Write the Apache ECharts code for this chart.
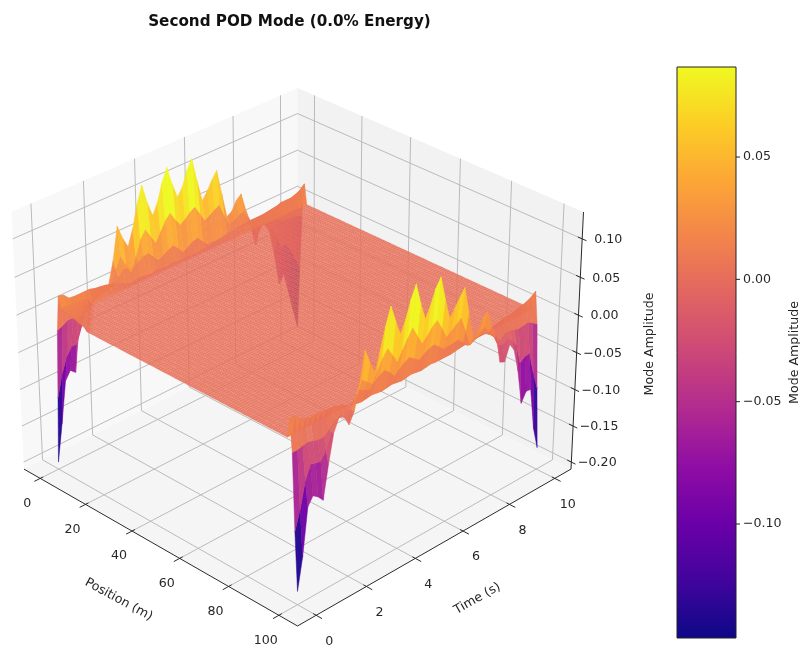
<!DOCTYPE html>
<html><head><meta charset="utf-8">
<style>html,body{margin:0;padding:0;background:#fff}#c{width:800px;height:651px}</style>
<script src="https://cdn.jsdelivr.net/npm/echarts@6/dist/echarts.min.js"></script>
</head><body><div id="c"></div>
<script>
// ---- axis data
const titleText = 'Second POD Mode (0.0% Energy)';
const positionTicks = [0, 20, 40, 60, 80, 100];
const timeTicks = [0, 2, 4, 6, 8, 10];
const modeTicks = [-0.20, -0.15, -0.10, -0.05, 0.00, 0.05, 0.10];
const colorbarTicks = [-0.10, -0.05, 0.00, 0.05];
const positionLim = [-7.29, 107.29];
const timeLim = [-0.729, 10.729];
const modeLim = [-0.2098, 0.1346];
const colorLim = [-0.1466, 0.0868];
const plasmaStops = ['#0d0887','#41049d','#6a00a8','#8f0da4','#b12a90','#cc4778','#e16462','#f2844b','#fca636','#fcce25','#f0f921'];

// ---- sample positions along each axis
const positions = [0,1,2,3,4,5,6,7,8,9,10,11,12,13,14,15,16,17,18,19,20,21,22,23,24,25,26,27,28,29,30,31,32,33,34,35,36,37,38,39,40,41,42,43,44,45,46,47,48,49,50,51,52,53,54,55,56,57,58,59,60,61,62,63,64,65,66,67,68,69,70,71,72,73,74,75,76,77,78,79,80,81,82,83,84,85,86,87,88,89,90,91,92,93,94,95,96,97,98,99,100];
const times = [0,0.2,0.4,0.6,0.8,1,1.2,1.4,1.6,1.8,2,2.2,2.4,2.6,2.8,3,3.2,3.4,3.6,3.8,4,4.2,4.4,4.6,4.8,5,5.2,5.4,5.6,5.8,6,6.2,6.4,6.6,6.8,7,7.2,7.4,7.6,7.8,8,8.2,8.4,8.6,8.8,9,9.2,9.4,9.6,9.8,10];

// ---- mode amplitude read along the rows next to each position boundary
const zPos0 = [-.2,-.15,-.095,-.084,-.09,-.03,-.002,.004,.005,.004,
 .003,.006,.035,.077,.058,.044,.065,.095,.116,.09,
 .07,.085,.108,.125,.1,.08,.09,.11,.122,.09,
 .06,.07,.082,.092,.058,.024,.028,.04,.046,.02,
 -.006,-.033,-.008,-.011,-.024,-.06,-.103,-.092,-.12,-.149,-.177];
const zPos1 = [-.11,-.08,-.06,-.05,-.05,-.03,-.01,0,.003,.004,
 .005,.008,.025,.04,.025,.012,.03,.05,.06,.048,
 .036,.048,.06,.067,.055,.045,.05,.056,.06,.048,
 .036,.04,.044,.048,.03,.016,.018,.022,.024,.012,
 -.002,-.015,-.006,-.008,-.014,-.03,-.05,-.048,-.06,-.075,-.09];
const zPos2 = [-.017,-.014,-.01,-.01,-.012,-.012,-.008,-.003,.002,.004,
 .005,.008,.016,.024,.022,.02,.024,.028,.03,.022,
 .014,.018,.022,.025,.018,.01,.014,.018,.02,.012,
 .005,.005,.005,.006,.008,.011,.008,.008,.008,.006,
 .002,-.002,-.002,-.002,-.004,-.008,-.012,-.012,-.012,-.014,-.016];
const zPos3 = [.03,.028,.021,.02,.02,.02,.02,.018,.017,.016,
 .014,.012,.01,.006,.004,.005,.006,.005,.004,.006,
 .005,.004,.006,.005,.004,.005,.004,.003,.004,.005,
 .005,.006,.007,.008,.009,.01,.011,.012,.013,.013,
 .013,.013,.014,.015,.016,.018,.018,.018,.02,.023,.029];
const zPos97 = [.026,.028,.02,.017,.015,.015,.015,.014,.013,.012,
 .01,.006,.003,.002,.001,.002,.003,.002,.001,.002,
 .003,.002,.001,.002,.003,.002,.001,.002,.003,.002,
 .002,.002,.002,.003,.004,.005,.006,.007,.008,.008,
 .008,.009,.011,.012,.013,.014,.016,.017,.019,.022,.027];
const zPos98 = [-.014,-.014,-.012,-.011,-.013,-.015,-.015,-.009,-.003,.001,
 -.002,.003,.012,.022,.018,.015,.022,.027,.03,.024,
 .016,.022,.027,.03,.025,.02,.025,.028,.03,.024,
 .018,.018,.019,.02,.013,.006,.007,.009,.011,.008,
 .003,-.004,-.01,-.004,-.004,-.006,-.008,-.007,-.006,-.01,-.015];
const zPos99 = [-.115,-.09,-.056,-.038,-.04,-.041,-.03,-.01,.002,.003,
 -.004,.004,.02,.036,.03,.024,.038,.05,.06,.048,
 .036,.048,.06,.07,.056,.043,.05,.058,.063,.05,
 .035,.04,.045,.05,.03,.008,.012,.018,.022,.012,
 .003,-.012,-.014,-.01,-.015,-.025,-.052,-.047,-.046,-.075,-.1];
const zPos100 = [-.192,-.15,-.088,-.077,-.082,-.09,-.047,-.01,.006,.004,
 -.01,.004,.035,.075,.056,.04,.065,.092,.114,.092,
 .072,.088,.11,.126,.098,.075,.09,.108,.119,.088,
 .06,.07,.08,.09,.055,.02,.026,.038,.044,.022,
 .004,-.033,-.036,-.016,-.027,-.058,-.105,-.092,-.093,-.15,-.18];
// slightly raised patch beside the first corner (first times only)
const cornerRows = {
 4:[.016,.016,.015,.015,.014,.012],
 5:[.015,.015,.014,.014,.012],
 6:[.014,.013,.013,.012,.01],
 7:[.013,.012,.012,.01],
 8:[.012,.011,.01,.009],
 9:[.011,.01,.009],
 10:[.01,.009,.008],
 11:[.009,.008],
 12:[.008,.007],
 13:[.007],
 14:[.006]
};
const zFlat = 0.002;
const edgeRows = {0:zPos0,1:zPos1,2:zPos2,3:zPos3,97:zPos97,98:zPos98,99:zPos99,100:zPos100};

function amp(pi, j) {
  const r = edgeRows[pi];
  if (r) return r[j];
  const c = cornerRows[pi];
  if (c && j < c.length) return c[j];
  return zFlat;
}

// ---- perspective camera (elevation 30, azimuth -45, box 4:4:3)
const box = [1.19, 1.19, 0.893];
const scale = 3323, originX = 297.5, originY = 343.4, dist = 10;
const uAxis = [0.7071, 0.7071, 0], vAxis = [-0.35355, 0.35355, 0.86603], wAxis = [0.61237, -0.61237, 0.5];
function frac(v, lim) { return (v - lim[0]) / (lim[1] - lim[0]); }
function projFrac(fx, fy, fz) {
  const d = [fx*box[0]-box[0]/2, fy*box[1]-box[1]/2, fz*box[2]-box[2]/2];
  const dot = a => a[0]*d[0]+a[1]*d[1]+a[2]*d[2];
  const depth = dist - dot(wAxis);
  return [originX + scale*dot(uAxis)/depth, originY - scale*dot(vAxis)/depth, depth];
}
function project(p, t, z) { return projFrac(frac(p,positionLim), frac(t,timeLim), frac(z,modeLim)); }

function rgbOf(hex){return [1,3,5].map(i=>parseInt(hex.substr(i,2),16));}
const plasmaRGB = plasmaStops.map(rgbOf);
function plasma(v, alpha) {
  let f = Math.max(0, Math.min(1, frac(v, colorLim))) * (plasmaRGB.length-1);
  const i = Math.min(plasmaRGB.length-2, Math.floor(f)); f -= i;
  const c = plasmaRGB[i].map((a,k)=>Math.round(a+(plasmaRGB[i+1][k]-a)*f));
  return 'rgba('+c.join(',')+','+alpha+')';
}

// ---- surface cells, sorted back to front
const cells = [];
for (let a = 0; a < positions.length-1; a++) for (let b = 0; b < times.length-1; b++) {
  const pts = [[a,b],[a+1,b],[a+1,b+1],[a,b+1]].map(q => project(positions[q[0]], times[q[1]], amp(q[0],q[1])));
  const mean = (amp(a,b)+amp(a+1,b)+amp(a+1,b+1)+amp(a,b+1))/4;
  cells.push({pts: pts.map(q=>[q[0],q[1]]), depth:(pts[0][2]+pts[1][2]+pts[2][2]+pts[3][2])/4, mean,
    isFlat: Math.abs(mean-zFlat) < 1e-6});
}
cells.sort((x,y)=>y.depth-x.depth);

// ---- panes and grid
const paneFaces = [
 {c:'#f8f8f8', pts:[[0,0,0],[0,1,0],[0,1,1],[0,0,1]]},
 {c:'#f2f2f2', pts:[[0,1,0],[1,1,0],[1,1,1],[0,1,1]]},
 {c:'#f5f5f5', pts:[[0,0,0],[1,0,0],[1,1,0],[0,1,0]]}
];
const gridSegs = [], tickSegs = [], labels = [];
positionTicks.forEach(v=>{const f=frac(v,positionLim);
  gridSegs.push([[f,0,0],[f,1,0]],[[f,1,0],[f,1,1]]);
  tickSegs.push([[f,-0.02,0],[f,0.01,0]]);
  const q=projFrac(f,0,0); labels.push({t:String(v),x:q[0]-13,y:q[1]+25});
});
timeTicks.forEach(v=>{const f=frac(v,timeLim);
  gridSegs.push([[0,f,0],[1,f,0]],[[0,f,0],[0,f,1]]);
  tickSegs.push([[0.99,f,0],[1.02,f,0]]);
  const q=projFrac(1,f,0); labels.push({t:String(v),x:q[0]+13,y:q[1]+26});
});
modeTicks.forEach(v=>{const f=frac(v,modeLim);
  gridSegs.push([[0,0,f],[0,1,f]],[[0,1,f],[1,1,f]]);
  tickSegs.push([[0.986,1,f],[1.014,1,f]]);
  const q=projFrac(1,1,f); labels.push({t:v.toFixed(2).replace('-','\u2212'),x:q[0]+26,y:q[1]+1});
});
const axisSegs = [[[0,0,0],[1,0,0]],[[1,0,0],[1,1,0]],[[1,1,0],[1,1,1]]];
const pf = a => { const q = projFrac(a[0],a[1],a[2]); return [q[0],q[1]]; };
const midP = projFrac(0.5,0,0), midT = projFrac(1,0.5,0);
labels.push({t:'Position (m)',x:midP[0]-37,y:midP[1]+55,r:-0.50});
labels.push({t:'Time (s)',x:midT[0]+38,y:midT[1]+54,r:0.52});
labels.push({t:'Mode Amplitude',x:650,y:344,r:Math.PI/2});

const segStyle = (c,w)=>({stroke:c,lineWidth:w,fill:null});
const idx = a => a.map((_,i)=>[i]);
const fontFam = '"DejaVu Sans"';
const textColor = '#262626';
const labelSize = 12.6;

const option = {
  animation:false,
  backgroundColor:'#fff',
  title:{text:titleText,left:284.5,top:10,textAlign:'center',
    textStyle:{fontFamily:fontFam,fontWeight:'bold',fontSize:15.2,color:'#111'}},
  grid:{left:677,top:67,width:59,height:571,show:false,outerBoundsMode:'none'},
  xAxis:{type:'value',min:0,max:1,show:false},
  yAxis:{type:'value',min:colorLim[0],max:colorLim[1],position:'right',
    name:'Mode Amplitude',nameLocation:'middle',nameRotate:90,nameGap:52,
    nameTextStyle:{fontFamily:fontFam,fontSize:labelSize,color:textColor},
    splitLine:{show:false},axisLine:{show:false},axisTick:{show:false},
    axisLabel:{show:true,margin:7,fontFamily:fontFam,fontSize:labelSize,color:textColor,customValues:colorbarTicks,
      formatter:v=>Number(v).toFixed(2).replace('-','\u2212')}},
  series:[
    {type:'custom',coordinateSystem:'none',silent:true,z:1,data:idx(paneFaces),
     renderItem:(p,api)=>{const f=paneFaces[api.value(0)];
       return {type:'polygon',shape:{points:f.pts.map(pf)},style:{fill:f.c}};}},
    {type:'custom',coordinateSystem:'none',silent:true,z:2,data:idx(gridSegs),
     renderItem:(p,api)=>{const s=gridSegs[api.value(0)];const a=pf(s[0]),b=pf(s[1]);
       return {type:'line',shape:{x1:a[0],y1:a[1],x2:b[0],y2:b[1]},style:segStyle('#bbbbbb',1)};}},
    {type:'custom',coordinateSystem:'none',silent:true,z:3,data:idx(axisSegs.concat(tickSegs)),
     renderItem:(p,api)=>{const s=axisSegs.concat(tickSegs)[api.value(0)];const a=pf(s[0]),b=pf(s[1]);
       return {type:'line',shape:{x1:a[0],y1:a[1],x2:b[0],y2:b[1]},style:segStyle('#2b2b2b',1)};}},
    {type:'custom',coordinateSystem:'none',silent:true,z:4,progressive:0,data:idx(cells),
     renderItem:(p,api)=>{const c=cells[api.value(0)];const col=plasma(c.mean,c.isFlat?0.9:0.97);
       return {type:'polygon',shape:{points:c.pts},style:{fill:col,stroke:col,lineWidth:c.isFlat?0.1:0.5}};}},
    {type:'custom',coordinateSystem:'none',silent:true,z:5,data:idx(labels),
     renderItem:(p,api)=>{const l=labels[api.value(0)];
       return {type:'text',x:l.x,y:l.y,rotation:l.r||0,
         style:{text:l.t,align:'center',verticalAlign:'middle',fontFamily:fontFam,fontSize:labelSize,fill:textColor}};}},
    {type:'custom',coordinateSystem:'cartesian2d',silent:true,z:3,clip:false,data:[[0,colorLim[0]],[1,colorLim[1]]],
     encode:{x:0,y:1},
     renderItem:(p,api)=>{ if(p.dataIndex!==0) return null;
       const a=api.coord([0,colorLim[1]]),b=api.coord([1,colorLim[0]]);
       const stops=plasmaStops.map((c,i)=>({offset:1-i/(plasmaStops.length-1),color:c})).reverse();
       const children=[{type:'rect',shape:{x:a[0],y:a[1],width:b[0]-a[0],height:b[1]-a[1]},
         style:{fill:new echarts.graphic.LinearGradient(0,0,0,1,stops),stroke:'#222',lineWidth:1}}];
       colorbarTicks.forEach(v=>{const q=api.coord([1,v]);
         children.push({type:'line',shape:{x1:q[0],y1:q[1],x2:q[0]+4,y2:q[1]},style:{stroke:'#222',lineWidth:1}});});
       return {type:'group',children};}}
  ]
};
echarts.init(document.getElementById('c'),null,{renderer:'canvas'}).setOption(option);
</script></body></html>
